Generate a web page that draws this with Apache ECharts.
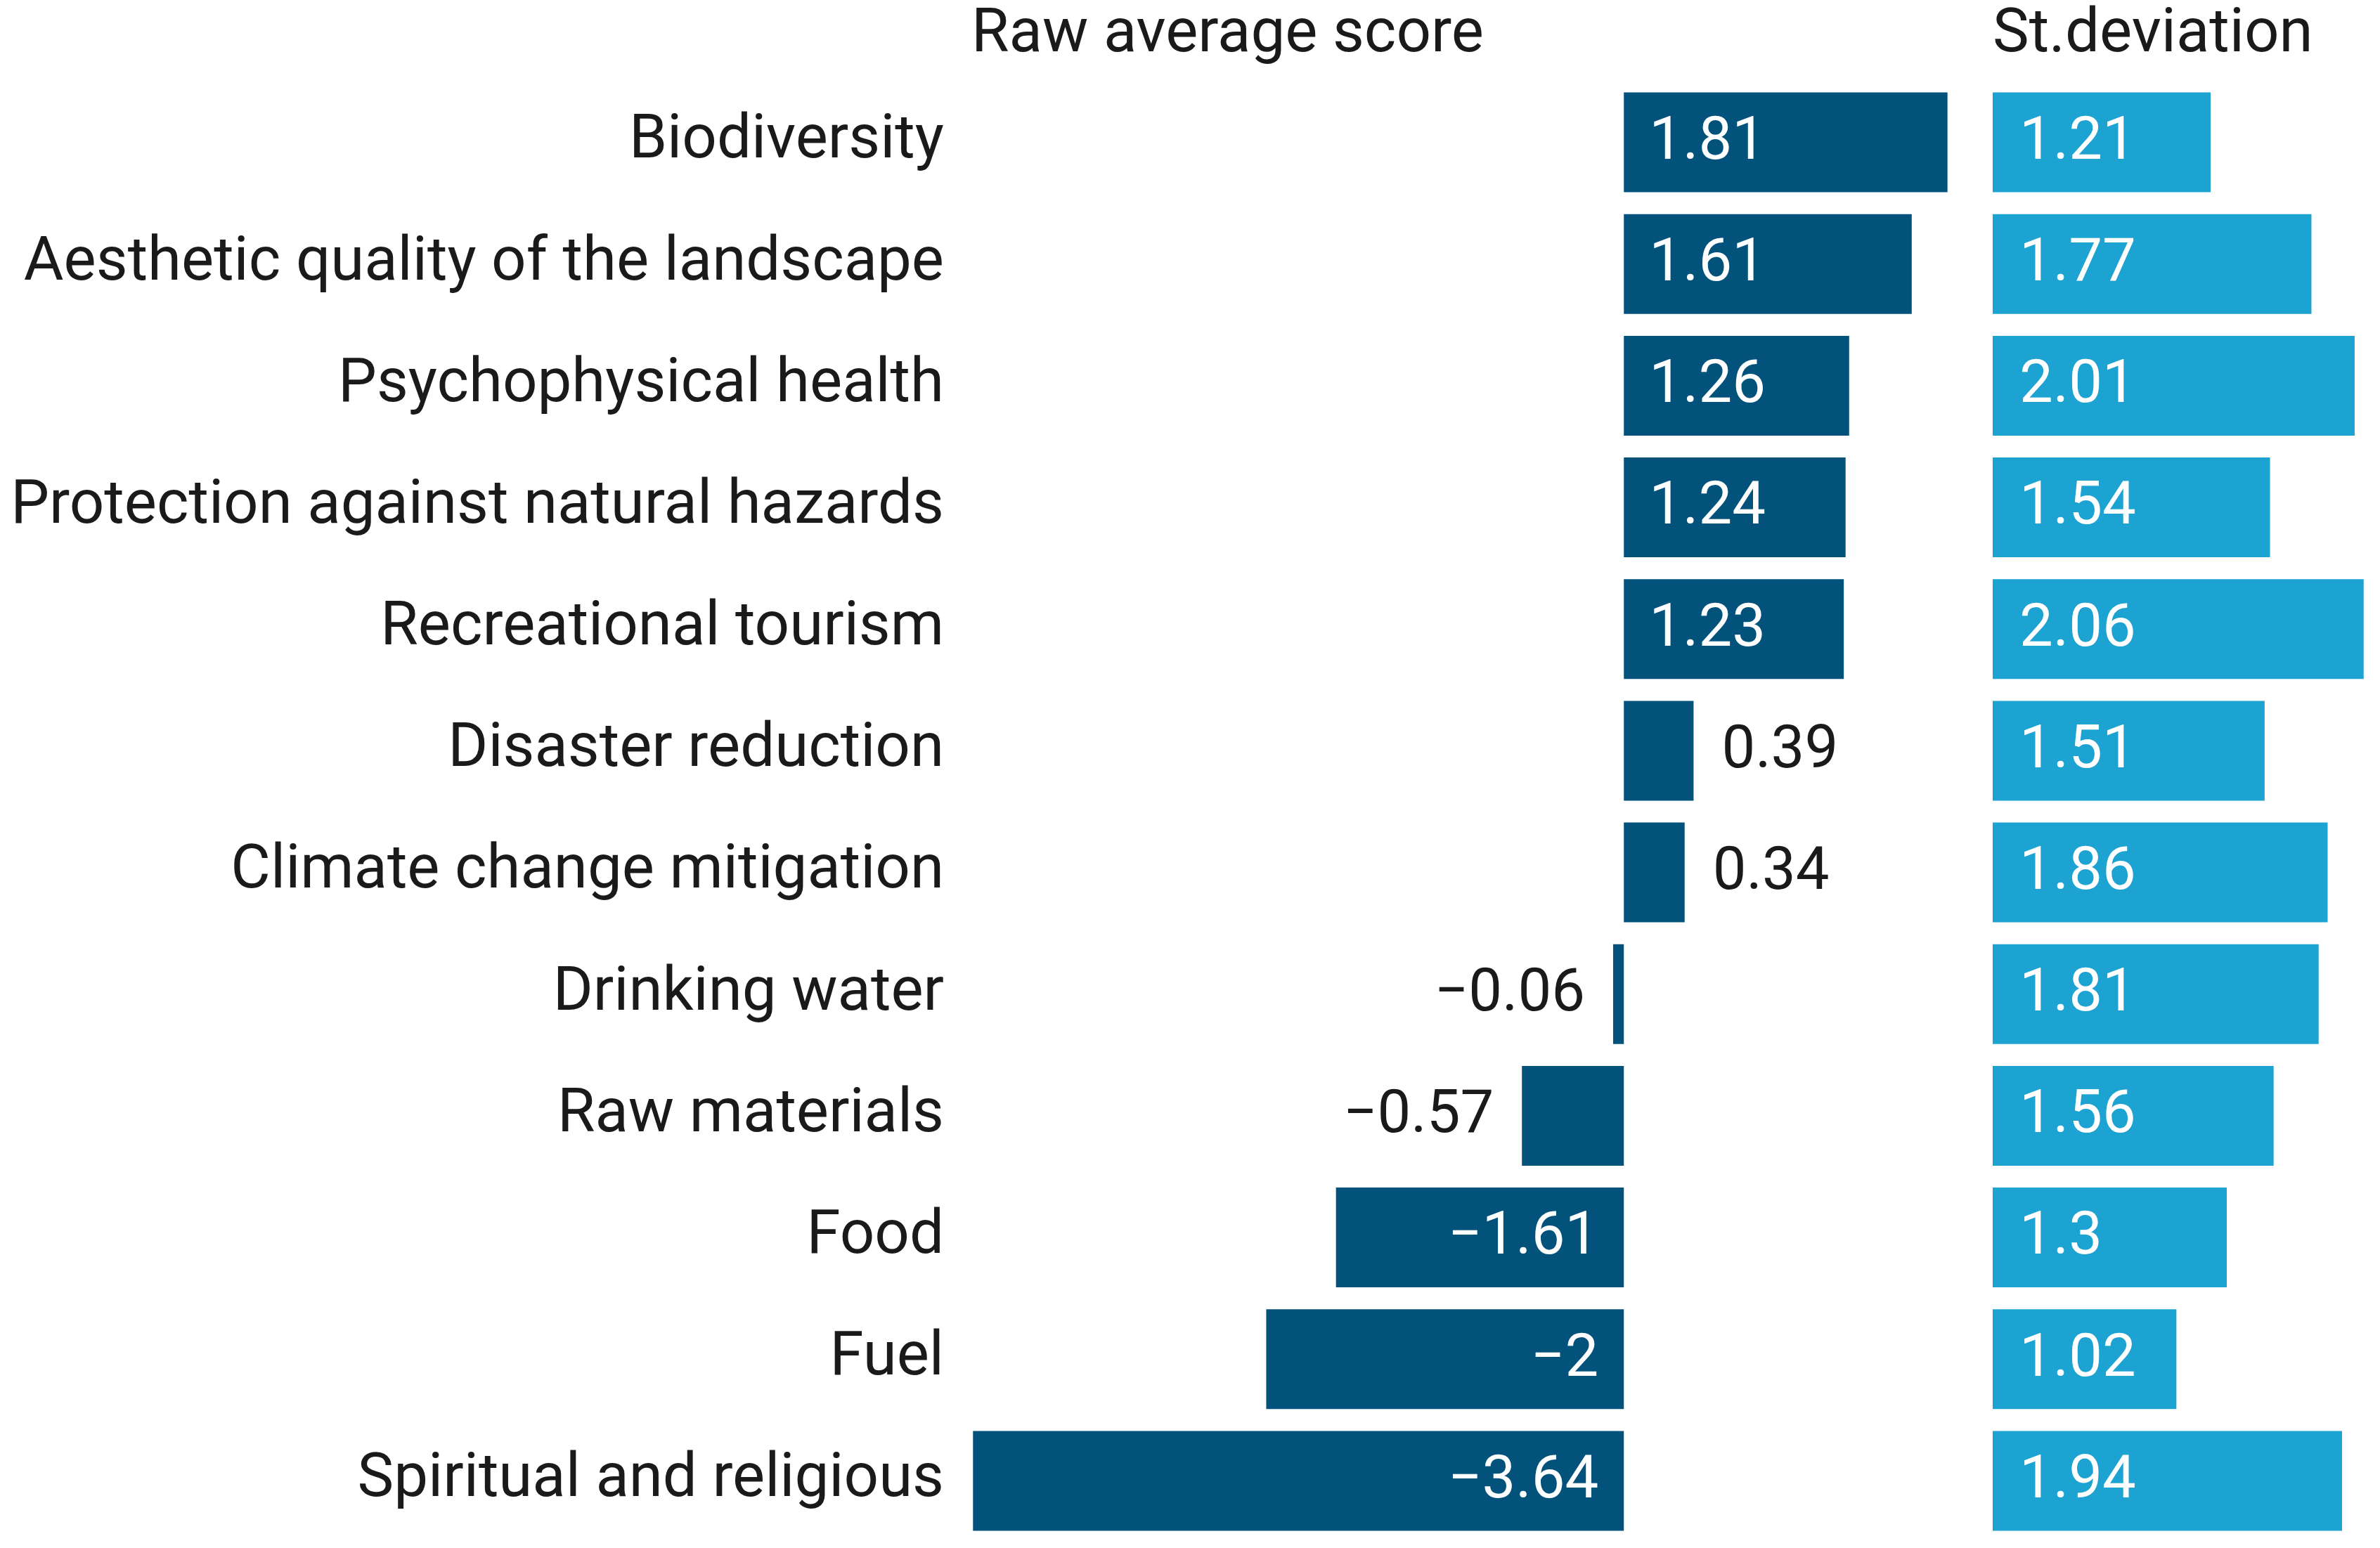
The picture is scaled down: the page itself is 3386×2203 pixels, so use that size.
<!DOCTYPE html>
<html>
<head>
<meta charset="utf-8">
<style>
  html, body { margin: 0; padding: 0; background: #fff; }
  #chart { width: 3386px; height: 2203px; }
</style>
<script src="https://cdn.jsdelivr.net/npm/echarts@6/dist/echarts.min.js"></script>
</head>
<body>
<div id="chart"></div>
<script>
// data
const categories = [
  'Biodiversity',
  'Aesthetic quality of the landscape',
  'Psychophysical health',
  'Protection against natural hazards',
  'Recreational tourism',
  'Disaster reduction',
  'Climate change mitigation',
  'Drinking water',
  'Raw materials',
  'Food',
  'Fuel',
  'Spiritual and religious'
]
const rawScores = [1.81, 1.61, 1.26, 1.24, 1.23, 0.39, 0.34, -0.06, -0.57, -1.61, -2, -3.64]
const stDeviations = [1.21, 1.77, 2.01, 1.54, 2.06, 1.51, 1.86, 1.81, 1.56, 1.3, 1.02, 1.94]
const panelTitles = ['Raw average score', 'St.deviation']

const DARK = '#03527b'
const LIGHT = '#1ca3d2'
const TEXT = '#1a1a1a'
const FONT = 'Roboto'
// nudges the category names down so they sit centred on the bars
const TEXT_PAD = [28, 0, 0, 0]

const fmt = (v) => String(v).replace('-', '\u2212')

// big bars get the value inside, small ones outside
const rawLabel = (v) => {
  if (Math.abs(v) >= 1) {
    return { position: v > 0 ? 'insideLeft' : 'insideRight', color: '#fff', distance: 36 }
  }
  return { position: v > 0 ? 'right' : 'left', color: TEXT, distance: 40 }
}

const chart = echarts.init(document.getElementById('chart'))

const option = {
  backgroundColor: '#fff',
  animation: false,
  graphic: [
    {
      type: 'text',
      left: 1382,
      top: 8,
      style: { text: panelTitles[0], fontSize: 87, fontFamily: FONT, fill: TEXT }
    },
    {
      type: 'text',
      left: 2835,
      top: 8,
      style: { text: panelTitles[1], fontSize: 87, fontFamily: FONT, fill: TEXT }
    }
  ],
  grid: [
    { left: 1369, width: 1450, top: 116, height: 2078 },
    { left: 2835, width: 538, top: 116, height: 2078 }
  ],
  xAxis: [
    { type: 'value', gridIndex: 0, min: -3.7, max: 2.0, show: false },
    { type: 'value', gridIndex: 1, min: 0, max: 2.1, show: false }
  ],
  yAxis: [
    {
      type: 'category',
      gridIndex: 0,
      data: categories,
      inverse: true,
      axisLine: { show: false, onZero: false },
      axisTick: { show: false },
      splitLine: { show: false },
      axisLabel: {
        fontSize: 87,
        fontFamily: FONT,
        color: TEXT,
        margin: 26,
        padding: TEXT_PAD
      }
    },
    {
      type: 'category',
      gridIndex: 1,
      data: categories,
      inverse: true,
      show: false
    }
  ],
  series: [
    {
      name: panelTitles[0],
      type: 'bar',
      xAxisIndex: 0,
      yAxisIndex: 0,
      barCategoryGap: '18%',
      itemStyle: { color: DARK },
      label: {
        show: true,
        fontSize: 85,
        fontFamily: FONT,
        offset: [0, 2],
        formatter: (p) => fmt(p.value)
      },
      data: rawScores.map((v) => ({ value: v, label: rawLabel(v) }))
    },
    {
      name: panelTitles[1],
      type: 'bar',
      xAxisIndex: 1,
      yAxisIndex: 1,
      barCategoryGap: '18%',
      itemStyle: { color: LIGHT },
      label: {
        show: true,
        position: 'insideLeft',
        distance: 38,
        color: '#fff',
        fontSize: 85,
        fontFamily: FONT,
        offset: [0, 2],
        formatter: (p) => fmt(p.value)
      },
      data: stDeviations
    }
  ]
}

chart.setOption(option)
</script>
</body>
</html>
